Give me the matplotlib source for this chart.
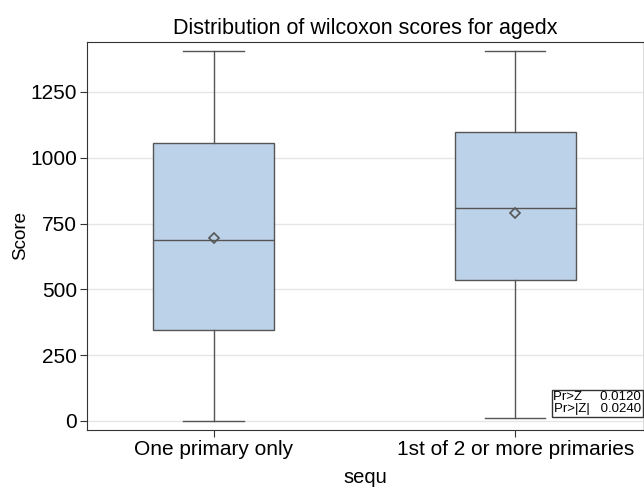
import matplotlib.pyplot as plt

plt.rcParams['font.family'] = ['Liberation Sans', 'DejaVu Sans']

groups = ["One primary only", "1st of 2 or more primaries"]
whislo = [0, 11]
q1 = [346, 536]
med = [688, 809]
q3 = [1056, 1098]
whishi = [1406, 1406]
means = [695, 790]

stats = []
for i in range(len(groups)):
    stats.append(dict(label=groups[i], whislo=whislo[i], q1=q1[i], med=med[i],
                      q3=q3[i], whishi=whishi[i], mean=means[i], fliers=[]))

fig = plt.figure(figsize=(6.44, 4.88), dpi=100)
ax = fig.add_axes([0.135, 0.119, 0.864, 0.795])

edge = "#555555"
ax.bxp(stats, positions=[0, 1], widths=0.4, patch_artist=True, showmeans=True,
       boxprops=dict(facecolor="#bcd2e8", edgecolor=edge, linewidth=1),
       medianprops=dict(color=edge, linewidth=1),
       whiskerprops=dict(color=edge, linewidth=1),
       capprops=dict(color=edge, linewidth=1),
       capwidths=0.2,
       meanprops=dict(marker="D", markerfacecolor="none", markeredgecolor=edge,
                      markersize=5, markeredgewidth=1.2))

ax.set_xlim(-0.42, 1.425)
ax.set_ylim(-34, 1440)
ax.set_yticks([0, 250, 500, 750, 1000, 1250])
ax.yaxis.grid(True, color="#e6e6e6", linewidth=1)
ax.set_axisbelow(True)
for s in ax.spines.values():
    s.set_color("#333333")
ax.spines["right"].set_color("#dddddd")
ax.tick_params(labelsize=15, length=5, color="#333333", pad=2)

ax.set_title("Distribution of wilcoxon scores for agedx", fontsize=15.5, pad=6)
ax.set_xlabel("sequ", fontsize=14.5, labelpad=7)
ax.set_ylabel("Score", fontsize=13.5, labelpad=1)

ax.text(0.996, 0.038, "Pr>Z     0.0120\nPr>|Z|   0.0240", transform=ax.transAxes,
        ha="right", va="bottom", fontsize=9.5, linespacing=1.0,
        bbox=dict(boxstyle="square,pad=0.12", facecolor="white", edgecolor="#333333", linewidth=1))

fig.savefig("out.png", dpi=100)
